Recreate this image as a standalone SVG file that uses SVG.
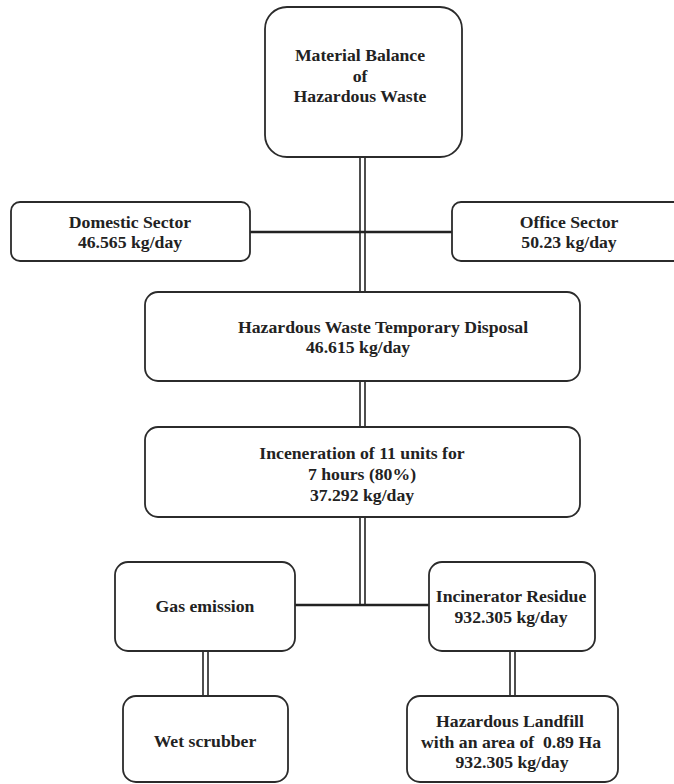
<svg xmlns="http://www.w3.org/2000/svg" width="674" height="784" viewBox="0 0 674 784">
<style>
.box{fill:#fff;stroke:#2b2b2b;stroke-width:1.8}
.t{font-family:'Liberation Serif','Times New Roman',Tinos,'DejaVu Serif',serif;font-weight:700;font-size:17.7px;fill:#222;text-anchor:middle;white-space:pre}
.ts{text-anchor:start}
.c{stroke:#222;stroke-width:1.6;fill:none}
.h{stroke:#222;stroke-width:2.6;fill:none}
</style>
<rect width="674" height="784" fill="#fff"/>
<g id="connectors">
<line class="h" x1="250" y1="232" x2="452" y2="232"/>
<line class="c" x1="360" y1="157" x2="360" y2="292"/>
<line class="c" x1="365" y1="157" x2="365" y2="292"/>
<line class="c" x1="360" y1="381" x2="360" y2="427"/>
<line class="c" x1="365" y1="381" x2="365" y2="427"/>
<line class="c" x1="360" y1="517" x2="360" y2="605"/>
<line class="c" x1="365" y1="517" x2="365" y2="605"/>
<line class="h" x1="295" y1="605" x2="429" y2="605"/>
<line class="c" x1="203" y1="651" x2="203" y2="696"/>
<line class="c" x1="208" y1="651" x2="208" y2="696"/>
<line class="c" x1="510" y1="651" x2="510" y2="696"/>
<line class="c" x1="515" y1="651" x2="515" y2="696"/>
</g>
<g id="material-balance">
<rect class="box" x="265" y="7" width="197" height="150" rx="22"/>
<text class="t" x="360" y="61" font-family="Liberation Serif, serif">Material Balance</text>
<text class="t" x="360" y="82" font-family="Liberation Serif, serif">of</text>
<text class="t" x="360" y="102" font-family="Liberation Serif, serif">Hazardous Waste</text>
</g>
<g id="domestic">
<rect class="box" x="11" y="202" width="239" height="59" rx="9"/>
<text class="t" x="130" y="228" font-family="Liberation Serif, serif">Domestic Sector</text>
<text class="t" x="130" y="248" font-family="Liberation Serif, serif">46.565 kg/day</text>
</g>
<g id="office">
<rect class="box" x="452" y="202" width="234" height="59" rx="9"/>
<text class="t" x="569" y="228" font-family="Liberation Serif, serif">Office Sector</text>
<text class="t" x="569" y="248" font-family="Liberation Serif, serif">50.23 kg/day</text>
</g>
<g id="temporary-disposal">
<rect class="box" x="145" y="292" width="435" height="89" rx="13"/>
<text class="t ts" x="238" y="333" font-family="Liberation Serif, serif">Hazardous Waste Temporary Disposal</text>
<text class="t ts" x="306" y="353" font-family="Liberation Serif, serif">46.615 kg/day</text>
</g>
<g id="incineration">
<rect class="box" x="145" y="427" width="435" height="90" rx="13"/>
<text class="t" x="362" y="459" font-family="Liberation Serif, serif">Inceneration of 11 units for</text>
<text class="t" x="362" y="480" font-family="Liberation Serif, serif">7 hours (80%)</text>
<text class="t" x="362" y="501" font-family="Liberation Serif, serif">37.292 kg/day</text>
</g>
<g id="gas-emission">
<rect class="box" x="115" y="562" width="180" height="89" rx="13"/>
<text class="t" x="205" y="612" font-family="Liberation Serif, serif">Gas emission</text>
</g>
<g id="incinerator-residue">
<rect class="box" x="429" y="562" width="166" height="89" rx="13"/>
<text class="t" x="511" y="602" font-family="Liberation Serif, serif">Incinerator Residue</text>
<text class="t" x="511" y="623" font-family="Liberation Serif, serif">932.305 kg/day</text>
</g>
<g id="wet-scrubber">
<rect class="box" x="123" y="696" width="165" height="86" rx="13"/>
<text class="t" x="205" y="747" font-family="Liberation Serif, serif">Wet scrubber</text>
</g>
<g id="landfill">
<rect class="box" x="407" y="696" width="211" height="86" rx="13"/>
<text class="t" x="510" y="727" font-family="Liberation Serif, serif">Hazardous Landfill</text>
<text class="t" x="511" y="748" font-family="Liberation Serif, serif">with an area of  0.89 Ha</text>
<text class="t" x="512" y="768" font-family="Liberation Serif, serif">932.305 kg/day</text>
</g>
</svg>
